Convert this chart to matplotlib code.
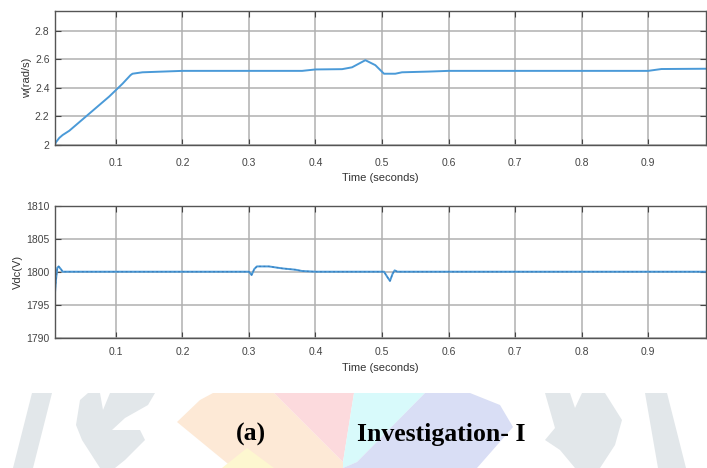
import numpy as np
import matplotlib.pyplot as plt
from matplotlib.patches import Polygon

# Rotor speed w (rad/s) vs time
t_w = [0.008, 0.010, 0.015, 0.020, 0.030, 0.060, 0.090, 0.110, 0.122, 0.125,
       0.140, 0.170, 0.200, 0.380, 0.400, 0.440, 0.455, 0.475, 0.490, 0.503,
       0.520, 0.530, 0.570, 0.600, 0.900, 0.920, 0.987]
w = [2.00, 2.02, 2.05, 2.07, 2.10, 2.22, 2.34, 2.43, 2.49, 2.50,
     2.51, 2.515, 2.52, 2.52, 2.53, 2.532, 2.545, 2.595, 2.56, 2.50,
     2.50, 2.51, 2.515, 2.52, 2.52, 2.533, 2.535]

# DC link voltage Vdc (V) vs time
t_v = [0.008, 0.010, 0.012, 0.014, 0.018, 0.020, 0.300, 0.304, 0.308, 0.312,
       0.330, 0.350, 0.370, 0.380, 0.400, 0.503, 0.508, 0.512, 0.516, 0.519,
       0.523, 0.987]
vdc = [1796.2, 1798.8, 1800.6, 1800.8, 1800.3, 1800.0, 1800.0, 1799.5, 1800.4, 1800.8,
       1800.8, 1800.5, 1800.3, 1800.1, 1800.0, 1800.0, 1799.2, 1798.6, 1799.7, 1800.2,
       1800.0, 1800.0]

time_ticks = [0.1, 0.2, 0.3, 0.4, 0.5, 0.6, 0.7, 0.8, 0.9]
time_labels = ['0.1', '0.2', '0.3', '0.4', '0.5', '0.6', '0.7', '0.8', '0.9']
w_ticks = [2.0, 2.2, 2.4, 2.6, 2.8]
w_labels = ['2', '2.2', '2.4', '2.6', '2.8']
v_ticks = [1790, 1795, 1800, 1805, 1810]
v_labels = ['1790', '1795', '1800', '1805', '1810']

LINE = '#4a9ad8'
W, H = 707, 468

plt.rcParams['font.family'] = ['Liberation Sans', 'DejaVu Sans']

fig = plt.figure(figsize=(W / 100, H / 100), dpi=100)


def px(pts):
    return [(x / W, 1 - y / H) for x, y in pts]


# faint logo shapes behind the caption
GREY = '#e2e7ea'
shapes = [
    ([(32, 393), (52, 393), (33, 468), (13, 468)], GREY),
    ([(80, 400), (88, 393), (100, 393), (103, 410), (110, 393), (155, 393), (148, 405),
      (125, 418), (112, 430), (140, 430), (145, 440), (125, 460), (115, 468), (100, 468),
      (82, 440), (76, 425)], GREY),
    ([(177, 422), (200, 400), (213, 393), (274, 393), (343, 462), (343, 468), (233, 468)],
     '#fde9d6'),
    ([(222, 468), (247, 448), (274, 468)], '#fdf7d0'),
    ([(274, 393), (354, 393), (343, 462)], '#fcdadd'),
    ([(354, 393), (425, 393), (357, 462), (343, 468), (343, 462)], '#d8fafb'),
    ([(425, 393), (470, 393), (500, 405), (513, 427), (477, 468), (343, 468), (357, 462)],
     '#d9def5'),
    ([(545, 393), (570, 393), (575, 408), (582, 393), (605, 393), (622, 420), (615, 445),
      (600, 468), (575, 468), (560, 450), (545, 440), (555, 428)], GREY),
    ([(645, 393), (667, 393), (686, 468), (658, 468)], GREY),
]
for pts, col in shapes:
    fig.patches.append(Polygon(px(pts), closed=True, transform=fig.transFigure,
                               facecolor=col, edgecolor='none', zorder=0))


def style_axes(ax, yticks, ylabels, ylim, ylabel, xpad):
    ax.set_xlim(0.0085, 0.987)
    ax.set_ylim(*ylim)
    ax.set_xticks(time_ticks)
    ax.set_xticklabels(time_labels)
    ax.set_yticks(yticks)
    ax.set_yticklabels(ylabels)
    ax.grid(True, color='#b0b0b0', linewidth=1.1)
    ax.set_axisbelow(True)
    ax.tick_params(direction='in', length=4, labelsize=7.5, colors='#444444',
                   top=True, right=True)
    ax.tick_params(axis='x', pad=xpad)
    ax.tick_params(axis='y', pad=4)
    for s in ax.spines.values():
        s.set_color('#555555')
        s.set_linewidth(1.0)
    ax.set_xlabel('Time (seconds)', fontsize=8, color='#333333', labelpad=4)
    ax.set_ylabel(ylabel, fontsize=8, color='#333333', labelpad=2)


ax1 = fig.add_axes([55 / W, 1 - 145 / H, 651 / W, 134 / H])
ax1.plot(t_w, w, color=LINE, linewidth=1.4)
style_axes(ax1, w_ticks, w_labels, (2.0, 2.94), 'w(rad/s)', 9)

ax2 = fig.add_axes([55 / W, 1 - 337.7 / H, 651 / W, 132 / H])
ax2.plot(t_v, vdc, color=LINE, linewidth=1.4)
ax2.plot(t_v, vdc, color='#2f6fb0', linewidth=0.9, linestyle=(0, (1.5, 2)), alpha=0.6)
style_axes(ax2, v_ticks, v_labels, (1790, 1810), 'Vdc(V)', 7)

fig.text(251 / W, 1 - 441 / H, '(a)', family='Liberation Serif', weight='bold',
         fontsize=18.5, ha='center', va='baseline')
fig.text(441 / W, 1 - 441 / H, 'Investigation- I', family='Liberation Serif',
         weight='bold', fontsize=18.5, ha='center', va='baseline')

fig.savefig('out.png', dpi=100)
